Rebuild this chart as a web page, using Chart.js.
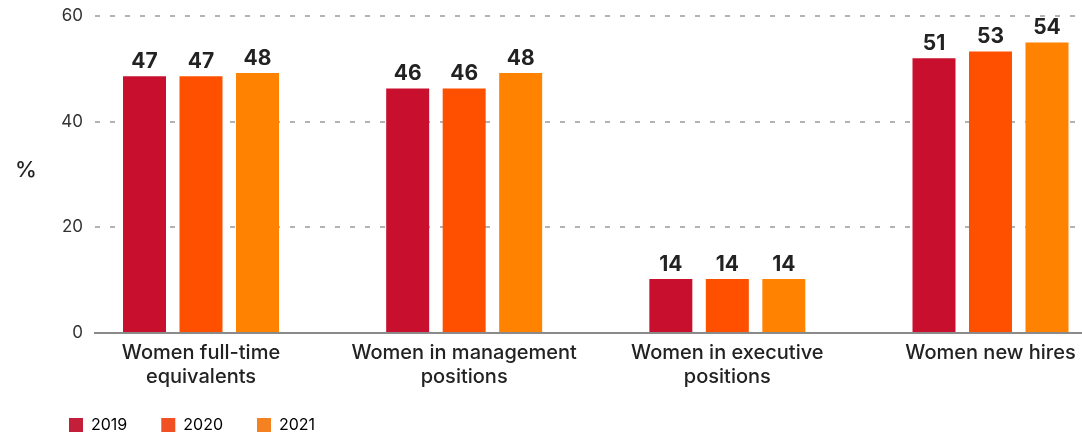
<!DOCTYPE html>
<html>
<head>
<meta charset="utf-8">
<script src="https://cdn.jsdelivr.net/npm/chart.js"></script>
<style>
  html, body { margin: 0; padding: 0; background: #fff; overflow: hidden; }
  #wrap { width: 1082px; height: 438px; }
</style>
</head>
<body>
<div id="wrap"><canvas id="chart"></canvas></div>
<script>
// categories (multi-line labels as shown)
const categories = [
    ['Women full-time', 'equivalents'],
    ['Women in management', 'positions'],
    ['Women in executive', 'positions'],
    ['Women new hires']
];
const years = ['2019', '2020', '2021'];

// bar heights as drawn in the picture
const values2019 = [48.6, 46.3, 10.2, 52.0];
const values2020 = [48.6, 46.3, 10.2, 53.3];
const values2021 = [49.2, 49.2, 10.2, 55.0];

// value labels printed above the bars
const labels2019 = ['47', '46', '14', '51'];
const labels2020 = ['47', '46', '14', '53'];
const labels2021 = ['48', '48', '14', '54'];

const yTicks = [0, 20, 40, 60];

const barColors = ['#C8102E', '#FF5000', '#FF8200'];
const legendColors = ['#C41F3A', '#F05022', '#F58220'];

const seriesValues = [values2019, values2020, values2021];
const seriesLabels = [labels2019, labels2020, labels2021];

const FONT = 'Inter, "Noto Sans", sans-serif';

// value labels on top of bars + the "%" axis caption
const valueLabels = {
    id: 'valueLabels',
    afterDatasetsDraw(chart) {
        const ctx = chart.ctx;
        ctx.save();
        ctx.font = `bold 21px ${FONT}`;
        ctx.fillStyle = '#222';
        ctx.textAlign = 'center';
        ctx.textBaseline = 'alphabetic';
        chart.data.datasets.forEach((ds, i) => {
            chart.getDatasetMeta(i).data.forEach((bar, j) => {
                ctx.fillText(seriesLabels[i][j], bar.x, bar.y - 8);
            });
        });
        ctx.font = `500 22px ${FONT}`;
        ctx.textBaseline = 'middle';
        ctx.fillText('%', 26, 170);
        ctx.restore();
    }
};

new Chart(document.getElementById('chart'), {
    type: 'bar',
    data: {
        datasets: years.map((y, i) => ({
            label: y,
            data: seriesValues[i].map((v, j) => ({ x: j, y: v })),
            backgroundColor: barColors[i],
            borderWidth: 0,
            categoryPercentage: 0.644,
            barPercentage: 0.761
        }))
    },
    options: {
        responsive: true,
        maintainAspectRatio: false,
        animation: false,
        layout: { padding: { left: 35, top: 16, right: 0, bottom: -5 } },
        plugins: {
            tooltip: { enabled: false },
            legend: {
                position: 'bottom',
                align: 'start',
                labels: {
                    boxWidth: 14,
                    boxHeight: 14,
                    padding: 34,
                    color: '#333',
                    font: { family: FONT, size: 16 },
                    generateLabels(chart) {
                        return years.map((y, i) => ({
                            text: y,
                            fillStyle: legendColors[i],
                            strokeStyle: legendColors[i],
                            lineWidth: 0,
                            datasetIndex: i
                        }));
                    }
                }
            }
        },
        scales: {
            x: {
                type: 'linear',
                offset: false,
                min: -0.4028,
                max: 3.3477,
                afterBuildTicks: s => { s.ticks = categories.map((c, i) => ({ value: i })); },
                afterFit: s => {
                    s.height = 50;
                    s.paddingLeft = 0;
                    s.paddingRight = 0;
                    s._computeLabelArea = () => undefined; // don't clip 2nd label line
                },
                grid: { display: false, drawTicks: false },
                border: { display: true, color: '#8a8a8a', width: 2 },
                ticks: {
                    autoSkip: false,
                    maxRotation: 0,
                    padding: 8,
                    color: '#222',
                    font: { family: FONT, size: 20, weight: 500, lineHeight: 1.2 },
                    callback: v => categories[v]
                }
            },
            y: {
                min: 0,
                max: 60,
                afterBuildTicks: s => { s.ticks = yTicks.map(v => ({ value: v })); },
                afterFit: s => {
                    s.width = 60;
                    s.paddingTop = 0;
                    s.paddingBottom = 0;
                },
                grid: { color: '#b3b3b3', lineWidth: 2, drawTicks: false },
                border: { display: false, dash: [5, 10] },
                ticks: {
                    padding: 12,
                    color: '#333',
                    font: { family: FONT, size: 17 }
                }
            }
        }
    },
    plugins: [valueLabels]
});
</script>
</body>
</html>
